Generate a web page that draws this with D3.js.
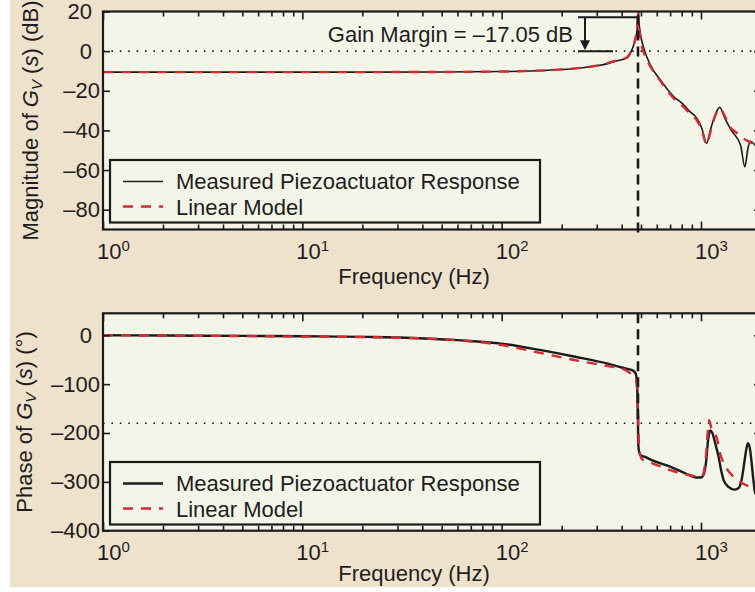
<!DOCTYPE html>
<html>
<head>
<meta charset="utf-8">
<script src="https://cdn.jsdelivr.net/npm/d3@7"></script>
<style>
  body { margin: 0; background: #ffffff; }
  svg { display: block; }
  text { font-family: "Liberation Sans", Arial, Helvetica, sans-serif; fill: #1f1d1e; }
</style>
</head>
<body>
<svg id="chart" width="755" height="592"></svg>
<script>
// ---- Bode data of the piezoactuator (frequency in Hz) ----
const seriesNames = ["Measured Piezoactuator Response", "Linear Model"];

// magnitude, measured (dB)
const magMeasFreq = [1, 2, 5, 10, 20, 50, 100, 150, 200, 250, 300, 340, 380, 424, 445, 467, 477, 481, 484,
  490, 500, 515, 535, 575, 620, 673, 740, 805, 880, 955, 1010, 1067, 1120, 1180, 1240, 1320, 1420, 1580,
  1660, 1720, 1770, 1850, 2000];
const magMeasDb = [-10.6, -10.6, -10.6, -10.6, -10.6, -10.5, -10.3, -9.9, -9.3, -8.5, -7.4, -6.3, -4.8, -3.5, -0.5,
  5.4, 10, 14, 18.5, 13, 7, 2, -3, -9.5, -14, -18.8, -23.5, -26.4, -30.5, -34, -39, -46.5, -39, -32, -28.4, -34,
  -40, -47.5, -58.4, -49, -45.5, -47, -52];

// magnitude, linear model (dB)
const magModelFreq = [1, 10, 50, 100, 200, 300, 380, 424, 445, 467, 477, 481, 484, 488, 495, 505, 520, 545,
  575, 620, 673, 740, 805, 880, 955, 1010, 1067, 1120, 1180, 1240, 1320, 1400, 1500, 1690, 2000];
const magModelDb = [-10.6, -10.6, -10.5, -10.3, -9.2, -7.3, -4.6, -3.2, -0.2, 5.8, 11, 15.5, 21, 14, 7.5, 2.5,
  -1.5, -6, -10, -14.5, -19.5, -24.5, -27.5, -31.5, -35, -40, -47, -40, -32.5, -29, -33, -38.3, -41, -45, -48];

// phase, measured (degrees)
const phaseMeasFreq = [1, 2, 5, 10, 23, 60, 100, 160, 234, 340, 400, 430, 455, 470, 478, 482, 485, 490, 500,
  524, 570, 700, 850, 950, 1000, 1030, 1060, 1085, 1110, 1140, 1180, 1220, 1260, 1300, 1380, 1460, 1540, 1600,
  1650, 1690, 1720, 1760, 1790, 1830, 1870, 2000];
const phaseMeasDeg = [0, -0.5, -1.2, -2, -3.5, -10, -17, -31, -44, -58, -66, -69, -72, -78, -100, -160, -225,
  -240, -246, -249, -256, -269, -284, -291, -291, -285, -260, -215, -195, -200, -222, -245, -275, -297, -311,
  -316, -313, -295, -260, -232, -221, -232, -256, -295, -323, -335];

// phase, linear model (degrees)
const phaseModelFreq = [1, 10, 23, 60, 100, 160, 234, 340, 400, 440, 456, 470, 478, 483, 488, 495, 510, 570,
  700, 850, 1000, 1030, 1060, 1085, 1098, 1130, 1200, 1245, 1300, 1400, 1500, 1690, 2000];
const phaseModelDeg = [0, -2.5, -4, -10, -20, -37, -51, -63, -68, -77, -82, -90, -110, -160, -220, -245, -255,
  -262, -276, -285, -290, -282, -245, -190, -174, -192, -210, -241, -262, -282, -294, -307, -315];

// axes
const freqDecades = [0, 1, 2, 3];                 // labelled as 10^n
const magTicks = [20, 0, -20, -40, -60, -80];
const phaseTicks = [0, -100, -200, -300, -400];

// stability margins
const phaseCrossoverHz = 483;
const gainMarginDb = -17.05;
const criticalPhaseDeg = -180;

// ---- styling ----
const PAGE_BG = "#eee2cc";
const PLOT_BG = "#f3f5e9";
const INK = "#1c1a1b";
const RED = "#d42a32";
const FONT = 22;

const svg = d3.select("#chart");
const defs = svg.append("defs");
defs.append("clipPath").attr("id", "page-clip")
  .append("rect").attr("x", 0).attr("y", 0).attr("width", 755).attr("height", 587);
const page = svg.append("g").attr("clip-path", "url(#page-clip)");
page.append("rect").attr("x", 10).attr("y", 0).attr("width", 745).attr("height", 587).attr("fill", PAGE_BG);

const x = d3.scaleLog().domain([1, 2000]).range([103, 761]);
const majorFreq = freqDecades.map(e => 10 ** e);
const minorFreq = freqDecades.flatMap(e => d3.range(2, 10).map(m => m * 10 ** e)).filter(f => f < 2000);

const fmtTick = v => (v < 0 ? "\u2013" + Math.abs(v) : String(v));

function drawPanel(p) {
  const g = page.append("g");
  const [x0, x1] = x.range();
  const [yb, yt] = p.y.range();

  g.append("rect").attr("x", x0).attr("y", yt).attr("width", x1 - x0).attr("height", yb - yt).attr("fill", PLOT_BG);

  defs.append("clipPath").attr("id", p.id + "-clip")
    .append("rect").attr("x", x0).attr("y", yt).attr("width", x1 - x0).attr("height", yb - yt);
  const plot = g.append("g").attr("clip-path", `url(#${p.id}-clip)`);

  // dotted reference level
  plot.append("line")
    .attr("x1", x0).attr("x2", x1).attr("y1", p.y(p.ref)).attr("y2", p.y(p.ref))
    .attr("stroke", INK).attr("stroke-width", 1.6).attr("stroke-dasharray", "1.6 6.8");

  const line = d3.line().x(d => x(d[0])).y(d => p.y(d[1])).curve(d3.curveMonotoneX);

  plot.append("path").datum(d3.zip(p.measF, p.measV)).attr("d", line)
    .attr("fill", "none").attr("stroke", INK).attr("stroke-width", p.measWidth).attr("stroke-linejoin", "round");
  plot.append("path").datum(d3.zip(p.modelF, p.modelV)).attr("d", line)
    .attr("fill", "none").attr("stroke", RED).attr("stroke-width", 2.4).attr("stroke-dasharray", "10 8");

  // phase-crossover frequency marker
  g.append("line")
    .attr("x1", x(phaseCrossoverHz)).attr("x2", x(phaseCrossoverHz))
    .attr("y1", p.markTop).attr("y2", p.markBottom)
    .attr("stroke", INK).attr("stroke-width", 2.6).attr("stroke-dasharray", "10 6");

  // ticks (inward, mirrored)
  const tickStyle = sel => {
    sel.select(".domain").remove();
    sel.selectAll(".tick line").attr("stroke", INK).attr("stroke-width", 1.6);
  };
  g.append("g").attr("transform", `translate(0,${yb})`)
    .call(d3.axisBottom(x).tickValues(majorFreq).tickSize(-8).tickFormat("")).call(tickStyle);
  g.append("g").attr("transform", `translate(0,${yb})`)
    .call(d3.axisBottom(x).tickValues(minorFreq).tickSize(-5).tickFormat("")).call(tickStyle);
  g.append("g").attr("transform", `translate(0,${yt})`)
    .call(d3.axisTop(x).tickValues(majorFreq).tickSize(-8).tickFormat("")).call(tickStyle);
  g.append("g").attr("transform", `translate(0,${yt})`)
    .call(d3.axisTop(x).tickValues(minorFreq).tickSize(-5).tickFormat("")).call(tickStyle);
  g.append("g").attr("transform", `translate(${x0},0)`)
    .call(d3.axisLeft(p.y).tickValues(p.ticks).tickSize(-7).tickFormat("")).call(tickStyle);
  g.append("g").attr("transform", `translate(${x1},0)`)
    .call(d3.axisRight(p.y).tickValues(p.ticks).tickSize(-7).tickFormat("")).call(tickStyle);

  // frame
  g.append("rect").attr("x", x0).attr("y", yt).attr("width", x1 - x0).attr("height", yb - yt)
    .attr("fill", "none").attr("stroke", INK).attr("stroke-width", 2.2);

  // y tick labels
  g.selectAll(".ylab").data(p.ticks).join("text")
    .attr("x", v => x0 - (v < 0 ? 3 : 11)).attr("y", v => p.y(v) + 7.5)
    .attr("text-anchor", "end").attr("font-size", FONT).text(fmtTick);

  // x tick labels 10^n
  const xl = g.selectAll(".xlab").data(freqDecades).join("text")
    .attr("x", e => x(10 ** e) - 6).attr("y", yb + 29).attr("font-size", FONT);
  xl.append("tspan").text("10");
  xl.append("tspan").attr("font-size", 15).attr("dy", -8).text(e => e);

  // x title
  g.append("text").attr("x", 414).attr("y", p.xTitleY).attr("text-anchor", "middle")
    .attr("font-size", FONT).text("Frequency (Hz)");

  // y title:  <name> of G_V (s) <unit>
  const yt2 = g.append("text")
    .attr("transform", `translate(${p.yTitleX},${(yt + yb) / 2}) rotate(-90)`)
    .attr("text-anchor", "middle").attr("font-size", FONT);
  yt2.append("tspan").text(p.yName + " of ");
  yt2.append("tspan").attr("font-style", "italic").text("G");
  yt2.append("tspan").attr("font-style", "italic").attr("font-size", 15).attr("dy", 4).text("V");
  yt2.append("tspan").attr("dy", -4).text(" (");
  yt2.append("tspan").attr("font-style", "italic").text("s");
  yt2.append("tspan").text(") " + p.yUnit);

  // legend
  const lg = g.append("g").attr("transform", `translate(110,${p.legendTop})`);
  lg.append("rect").attr("width", 430).attr("height", 62.5)
    .attr("fill", PLOT_BG).attr("stroke", INK).attr("stroke-width", 2.2);
  lg.append("line").attr("x1", 13).attr("x2", 53).attr("y1", 21.5).attr("y2", 21.5)
    .attr("stroke", INK).attr("stroke-width", p.measWidth);
  lg.append("line").attr("x1", 13).attr("x2", 53).attr("y1", 46.5).attr("y2", 46.5)
    .attr("stroke", RED).attr("stroke-width", 2.4).attr("stroke-dasharray", "10 8");
  lg.selectAll(".ltxt").data(seriesNames).join("text")
    .attr("x", 66).attr("y", (d, i) => 29 + i * 25.5).attr("font-size", FONT).text(d => d);

  return g;
}

// ---- magnitude panel ----
const yMag = d3.scaleLinear().domain([-90, 20]).range([229.5, 11.5]);
const magPanel = drawPanel({
  id: "mag", y: yMag, ticks: magTicks, ref: 0,
  measF: magMeasFreq, measV: magMeasDb, modelF: magModelFreq, modelV: magModelDb,
  measWidth: 1.6, markTop: yMag(d3.max(magMeasDb)), markBottom: 233,
  xTitleY: 284, yTitleX: 38, yName: "Magnitude", yUnit: "(dB)", legendTop: 160
});

// gain margin annotation
const gmTop = yMag(-gainMarginDb), gmBase = yMag(0), gmX = 585;
magPanel.append("line").attr("x1", 578).attr("x2", x(phaseCrossoverHz)).attr("y1", gmTop).attr("y2", gmTop)
  .attr("stroke", INK).attr("stroke-width", 2);
magPanel.append("line").attr("x1", 578).attr("x2", 613).attr("y1", gmBase).attr("y2", gmBase)
  .attr("stroke", INK).attr("stroke-width", 2);
magPanel.append("line").attr("x1", gmX).attr("x2", gmX).attr("y1", gmTop).attr("y2", gmBase - 8)
  .attr("stroke", INK).attr("stroke-width", 2);
magPanel.append("path")
  .attr("d", d3.line()([[gmX - 5, gmBase - 11], [gmX + 5, gmBase - 11], [gmX, gmBase - 1]]) + "Z")
  .attr("fill", INK);
magPanel.append("text").attr("x", 573).attr("y", 42).attr("text-anchor", "end").attr("font-size", FONT)
  .text(`Gain Margin = ${gainMarginDb < 0 ? "\u2013" : ""}${Math.abs(gainMarginDb).toFixed(2)} dB`);

// ---- phase panel ----
const yPh = d3.scaleLinear().domain([-400, 45]).range([530.7, 313.3]);
drawPanel({
  id: "phase", y: yPh, ticks: phaseTicks, ref: criticalPhaseDeg,
  measF: phaseMeasFreq, measV: phaseMeasDeg, modelF: phaseModelFreq, modelV: phaseModelDeg,
  measWidth: 2.4, markTop: 313.3, markBottom: yPh(criticalPhaseDeg),
  xTitleY: 581, yTitleX: 32, yName: "Phase", yUnit: "(\u00b0)", legendTop: 462
});
</script>
</body>
</html>
